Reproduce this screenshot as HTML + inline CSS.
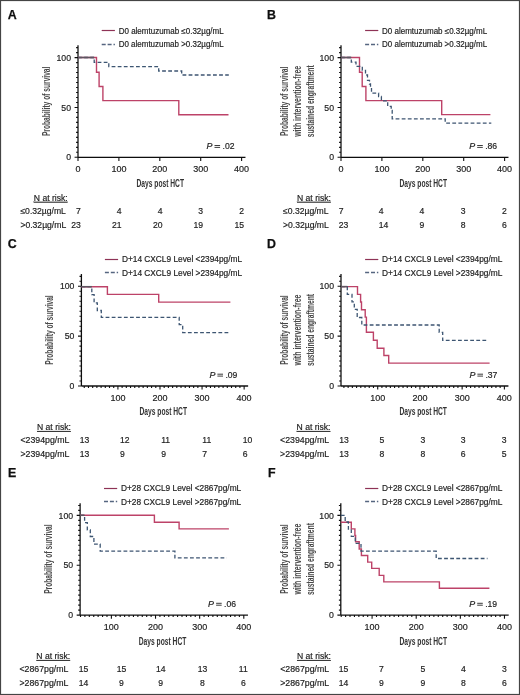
<!DOCTYPE html>
<html><head><meta charset="utf-8"><style>
html,body{margin:0;padding:0;background:#fff;}
svg{display:block;font-family:"Liberation Sans", sans-serif;}
text:not([font-weight]){stroke:#222;stroke-width:0.18px;}
</style></head><body>
<svg width="520" height="695" viewBox="0 0 520 695">
<defs><filter id="soft" x="0" y="0" width="520" height="695" filterUnits="userSpaceOnUse"><feGaussianBlur stdDeviation="0.3"/></filter></defs>
<rect x="0" y="0" width="520" height="695" fill="#fff"/>
<g filter="url(#soft)">
<text x="7.8" y="18.8" font-size="12.4" font-weight="bold" fill="#111" stroke="#111" stroke-width="0.25">A</text>
<path d="M78,45.34V157.3" stroke="#111" stroke-width="1.3" fill="none"/>
<path d="M74.6,157.3H78M76.1,152.31H78M76.1,147.33H78M76.1,142.34H78M76.1,137.36H78M76.1,132.38H78M76.1,127.39H78M76.1,122.41H78M76.1,117.42H78M76.1,112.44H78M74.6,107.45H78M76.1,102.47H78M76.1,97.48H78M76.1,92.5H78M76.1,87.51H78M76.1,82.53H78M76.1,77.54H78M76.1,72.56H78M76.1,67.57H78M76.1,62.59H78M74.6,57.6H78M76.1,52.62H78M76.1,47.63H78" stroke="#111" stroke-width="1.1" fill="none"/>
<path d="M78,157.3H245.49" stroke="#111" stroke-width="1.3" fill="none"/>
<path d="M78,157.3V160.9M118.9,157.3V160.9M159.8,157.3V160.9M200.7,157.3V160.9M241.6,157.3V160.9" stroke="#111" stroke-width="1.1" fill="none"/>
<text x="71" y="160.4" font-size="8.7" text-anchor="end" fill="#222">0</text>
<text x="71" y="110.55" font-size="8.7" text-anchor="end" fill="#222">50</text>
<text x="71" y="60.7" font-size="8.7" text-anchor="end" fill="#222">100</text>
<text x="78" y="172.2" font-size="9.0" text-anchor="middle" fill="#222">0</text>
<text x="118.9" y="172.2" font-size="9.0" text-anchor="middle" fill="#222">100</text>
<text x="159.8" y="172.2" font-size="9.0" text-anchor="middle" fill="#222">200</text>
<text x="200.7" y="172.2" font-size="9.0" text-anchor="middle" fill="#222">300</text>
<text x="241.6" y="172.2" font-size="9.0" text-anchor="middle" fill="#222">400</text>
<text transform="translate(160.24,186.7)" font-size="11" font-weight="bold" text-anchor="middle" fill="#333" textLength="47.5" lengthAdjust="spacingAndGlyphs">Days post HCT</text>
<text transform="translate(49.5,101.32) rotate(-90)" font-size="10" font-weight="bold" text-anchor="middle" fill="#4a4a4a" textLength="69.5" lengthAdjust="spacingAndGlyphs">Probability of survival</text>
<path d="M101.7,30.5h13.2" stroke="#8e3356" stroke-width="1.2" fill="none"/>
<path d="M101.7,44.5h13.2" stroke="#556680" stroke-width="1.3" stroke-dasharray="4,1.9" fill="none"/>
<text x="118.7" y="33.7" font-size="8.2" fill="#222" textLength="105" lengthAdjust="spacingAndGlyphs">D0 alemtuzumab ≤0.32µg/mL</text>
<text x="118.7" y="46.7" font-size="8.2" fill="#222" textLength="105" lengthAdjust="spacingAndGlyphs">D0 alemtuzumab &gt;0.32µg/mL</text>
<path d="M78,57.5H96.5V72.3H99.1V86.5H102.9V100.6H178.8V114.8H228.5" stroke="#bd4368" stroke-width="1.4" fill="none"/>
<path d="M78,57.5H94.2V62.3H108.8V66.6H158.7V71.0H181.7V75.0H228.8" stroke="#3d5572" stroke-width="1.3" stroke-dasharray="3.8,2.3" fill="none"/>
<path d="M78,57.5H94.2" stroke="#5e5560" stroke-width="1.5" fill="none"/>
<text x="206.5" y="148.9" font-size="8.9" font-style="italic" fill="#222">P</text>
<path d="M214.5,145.5h5.6M214.5,147.4h5.6" stroke="#333" stroke-width="0.95" fill="none"/>
<text x="222.5" y="148.9" font-size="8.6" fill="#222">.02</text>
<text x="33.8" y="200.8" font-size="8.6" fill="#222" text-decoration="underline">N at risk:</text>
<text x="20.4" y="214.2" font-size="8.6" fill="#222">≤0.32µg/mL</text>
<text x="80.8" y="214.2" font-size="8.6" text-anchor="end" fill="#222">7</text>
<text x="121.5" y="214.2" font-size="8.6" text-anchor="end" fill="#222">4</text>
<text x="162.5" y="214.2" font-size="8.6" text-anchor="end" fill="#222">4</text>
<text x="203" y="214.2" font-size="8.6" text-anchor="end" fill="#222">3</text>
<text x="244" y="214.2" font-size="8.6" text-anchor="end" fill="#222">2</text>
<text x="20.4" y="227.7" font-size="8.6" fill="#222">&gt;0.32µg/mL</text>
<text x="80.8" y="227.7" font-size="8.6" text-anchor="end" fill="#222">23</text>
<text x="121.5" y="227.7" font-size="8.6" text-anchor="end" fill="#222">21</text>
<text x="162.5" y="227.7" font-size="8.6" text-anchor="end" fill="#222">20</text>
<text x="203" y="227.7" font-size="8.6" text-anchor="end" fill="#222">19</text>
<text x="244" y="227.7" font-size="8.6" text-anchor="end" fill="#222">15</text>
<text x="267.1" y="18.8" font-size="12.4" font-weight="bold" fill="#111" stroke="#111" stroke-width="0.25">B</text>
<path d="M341,45.34V157.3" stroke="#111" stroke-width="1.3" fill="none"/>
<path d="M337.6,157.3H341M339.1,152.31H341M339.1,147.33H341M339.1,142.34H341M339.1,137.36H341M339.1,132.38H341M339.1,127.39H341M339.1,122.41H341M339.1,117.42H341M339.1,112.44H341M337.6,107.45H341M339.1,102.47H341M339.1,97.48H341M339.1,92.5H341M339.1,87.51H341M339.1,82.53H341M339.1,77.54H341M339.1,72.56H341M339.1,67.57H341M339.1,62.59H341M337.6,57.6H341M339.1,52.62H341M339.1,47.63H341" stroke="#111" stroke-width="1.1" fill="none"/>
<path d="M341,157.3H508.49" stroke="#111" stroke-width="1.3" fill="none"/>
<path d="M341,157.3V160.9M381.9,157.3V160.9M422.8,157.3V160.9M463.7,157.3V160.9M504.6,157.3V160.9" stroke="#111" stroke-width="1.1" fill="none"/>
<text x="334" y="160.4" font-size="8.7" text-anchor="end" fill="#222">0</text>
<text x="334" y="110.55" font-size="8.7" text-anchor="end" fill="#222">50</text>
<text x="334" y="60.7" font-size="8.7" text-anchor="end" fill="#222">100</text>
<text x="341" y="172.2" font-size="9.0" text-anchor="middle" fill="#222">0</text>
<text x="381.9" y="172.2" font-size="9.0" text-anchor="middle" fill="#222">100</text>
<text x="422.8" y="172.2" font-size="9.0" text-anchor="middle" fill="#222">200</text>
<text x="463.7" y="172.2" font-size="9.0" text-anchor="middle" fill="#222">300</text>
<text x="504.6" y="172.2" font-size="9.0" text-anchor="middle" fill="#222">400</text>
<text transform="translate(423.24,186.7)" font-size="11" font-weight="bold" text-anchor="middle" fill="#333" textLength="47.5" lengthAdjust="spacingAndGlyphs">Days post HCT</text>
<text transform="translate(288,101.32) rotate(-90)" font-size="10" font-weight="bold" text-anchor="middle" fill="#4a4a4a" textLength="69.5" lengthAdjust="spacingAndGlyphs">Probability of survival</text>
<text transform="translate(301,101.32) rotate(-90)" font-size="10" font-weight="bold" text-anchor="middle" fill="#4a4a4a" textLength="71" lengthAdjust="spacingAndGlyphs">with intervention-free</text>
<text transform="translate(314,101.32) rotate(-90)" font-size="10" font-weight="bold" text-anchor="middle" fill="#4a4a4a" textLength="72" lengthAdjust="spacingAndGlyphs">sustained engraftment</text>
<path d="M365.1,30.5h13.2" stroke="#8e3356" stroke-width="1.2" fill="none"/>
<path d="M365.1,44.5h13.2" stroke="#556680" stroke-width="1.3" stroke-dasharray="4,1.9" fill="none"/>
<text x="382.1" y="33.7" font-size="8.2" fill="#222" textLength="105" lengthAdjust="spacingAndGlyphs">D0 alemtuzumab ≤0.32µg/mL</text>
<text x="382.1" y="46.7" font-size="8.2" fill="#222" textLength="105" lengthAdjust="spacingAndGlyphs">D0 alemtuzumab &gt;0.32µg/mL</text>
<path d="M341,57.5H359.5V72.3H362.2V86.5H365.9V100.6H441.7V114.6H490.4" stroke="#bd4368" stroke-width="1.4" fill="none"/>
<path d="M341,57.5H351.3V62.1H356V66.4H362.3V70.3H365.5V75H367.5V80.3H369.5V84H370.5V87.4H371.5V93.2H378.6V96.5H381.4V100.9H387.7V106.4H391.2V110.5H392.2V118.8H445.2V123.1H491.3" stroke="#3d5572" stroke-width="1.3" stroke-dasharray="3.8,2.3" fill="none"/>
<path d="M341,57.5H351.3" stroke="#5e5560" stroke-width="1.5" fill="none"/>
<text x="469.2" y="148.9" font-size="8.9" font-style="italic" fill="#222">P</text>
<path d="M477.2,145.5h5.6M477.2,147.4h5.6" stroke="#333" stroke-width="0.95" fill="none"/>
<text x="485.2" y="148.9" font-size="8.6" fill="#222">.86</text>
<text x="297" y="200.8" font-size="8.6" fill="#222" text-decoration="underline">N at risk:</text>
<text x="283" y="214.2" font-size="8.6" fill="#222">≤0.32µg/mL</text>
<text x="338.75" y="214.2" font-size="8.6" text-anchor="start" fill="#222">7</text>
<text x="378.75" y="214.2" font-size="8.6" text-anchor="start" fill="#222">4</text>
<text x="419.5" y="214.2" font-size="8.6" text-anchor="start" fill="#222">4</text>
<text x="460.8" y="214.2" font-size="8.6" text-anchor="start" fill="#222">3</text>
<text x="502" y="214.2" font-size="8.6" text-anchor="start" fill="#222">2</text>
<text x="283" y="227.7" font-size="8.6" fill="#222">&gt;0.32µg/mL</text>
<text x="338.75" y="227.7" font-size="8.6" text-anchor="start" fill="#222">23</text>
<text x="378.75" y="227.7" font-size="8.6" text-anchor="start" fill="#222">14</text>
<text x="419.5" y="227.7" font-size="8.6" text-anchor="start" fill="#222">9</text>
<text x="460.8" y="227.7" font-size="8.6" text-anchor="start" fill="#222">8</text>
<text x="502" y="227.7" font-size="8.6" text-anchor="start" fill="#222">6</text>
<text x="7.8" y="247.8" font-size="12.4" font-weight="bold" fill="#111" stroke="#111" stroke-width="0.25">C</text>
<path d="M81.4,274.04V386" stroke="#111" stroke-width="1.3" fill="none"/>
<path d="M78,386H81.4M79.5,381.01H81.4M79.5,376.03H81.4M79.5,371.05H81.4M79.5,366.06H81.4M79.5,361.07H81.4M79.5,356.09H81.4M79.5,351.11H81.4M79.5,346.12H81.4M79.5,341.13H81.4M78,336.15H81.4M79.5,331.17H81.4M79.5,326.18H81.4M79.5,321.19H81.4M79.5,316.21H81.4M79.5,311.23H81.4M79.5,306.24H81.4M79.5,301.25H81.4M79.5,296.27H81.4M79.5,291.28H81.4M78,286.3H81.4M79.5,281.31H81.4M79.5,276.33H81.4" stroke="#111" stroke-width="1.1" fill="none"/>
<path d="M81.4,386H248.12" stroke="#111" stroke-width="1.3" fill="none"/>
<path d="M84.26,386V388M88.47,386V388M92.67,386V388M96.88,386V388M101.09,386V388M105.3,386V388M109.5,386V388M113.71,386V388M117.92,386V389.6M122.12,386V388M126.33,386V388M130.54,386V388M134.74,386V388M138.95,386V388M143.16,386V388M147.37,386V388M151.57,386V388M155.78,386V388M159.99,386V389.6M164.19,386V388M168.4,386V388M172.61,386V388M176.81,386V388M181.02,386V388M185.23,386V388M189.44,386V388M193.64,386V388M197.85,386V388M202.06,386V389.6M206.26,386V388M210.47,386V388M214.68,386V388M218.88,386V388M223.09,386V388M227.3,386V388M231.51,386V388M235.71,386V388M239.92,386V388M244.13,386V389.6" stroke="#111" stroke-width="1.1" fill="none"/>
<text x="74.4" y="389.1" font-size="8.7" text-anchor="end" fill="#222">0</text>
<text x="74.4" y="339.25" font-size="8.7" text-anchor="end" fill="#222">50</text>
<text x="74.4" y="289.4" font-size="8.7" text-anchor="end" fill="#222">100</text>
<text x="117.92" y="400.9" font-size="9.0" text-anchor="middle" fill="#222">100</text>
<text x="159.99" y="400.9" font-size="9.0" text-anchor="middle" fill="#222">200</text>
<text x="202.06" y="400.9" font-size="9.0" text-anchor="middle" fill="#222">300</text>
<text x="244.13" y="400.9" font-size="9.0" text-anchor="middle" fill="#222">400</text>
<text transform="translate(163.26,415.4)" font-size="11" font-weight="bold" text-anchor="middle" fill="#333" textLength="47.5" lengthAdjust="spacingAndGlyphs">Days post HCT</text>
<text transform="translate(52.9,330.02) rotate(-90)" font-size="10" font-weight="bold" text-anchor="middle" fill="#4a4a4a" textLength="69.5" lengthAdjust="spacingAndGlyphs">Probability of survival</text>
<path d="M104.9,259.5h13.2" stroke="#8e3356" stroke-width="1.2" fill="none"/>
<path d="M104.9,272.5h13.2" stroke="#556680" stroke-width="1.3" stroke-dasharray="4,1.9" fill="none"/>
<text x="121.9" y="262.2" font-size="8.2" fill="#222" textLength="120.2" lengthAdjust="spacingAndGlyphs">D+14 CXCL9 Level &lt;2394pg/mL</text>
<text x="121.9" y="275.7" font-size="8.2" fill="#222" textLength="120.2" lengthAdjust="spacingAndGlyphs">D+14 CXCL9 Level &gt;2394pg/mL</text>
<path d="M81.4,286.7H107.4V294.4H158.7V302.1H230.4" stroke="#bd4368" stroke-width="1.4" fill="none"/>
<path d="M81.4,286.7H91.8V294.7H94.1V302.8H97.3V310.5H101.3V317.4H179.2V324.6H182.7V332.7H230.4" stroke="#3d5572" stroke-width="1.3" stroke-dasharray="3.8,2.3" fill="none"/>
<path d="M81.4,286.7H91.8" stroke="#5e5560" stroke-width="1.5" fill="none"/>
<text x="209.4" y="377.6" font-size="8.9" font-style="italic" fill="#222">P</text>
<path d="M217.4,374.2h5.6M217.4,376.1h5.6" stroke="#333" stroke-width="0.95" fill="none"/>
<text x="225.4" y="377.6" font-size="8.6" fill="#222">.09</text>
<text x="37" y="430" font-size="8.6" fill="#222" text-decoration="underline">N at risk:</text>
<text x="20.5" y="443.4" font-size="8.6" fill="#222" textLength="49" lengthAdjust="spacingAndGlyphs">&lt;2394pg/mL</text>
<text x="79.7" y="443.4" font-size="8.6" text-anchor="start" fill="#222">13</text>
<text x="120" y="443.4" font-size="8.6" text-anchor="start" fill="#222">12</text>
<text x="161.2" y="443.4" font-size="8.6" text-anchor="start" fill="#222">11</text>
<text x="202.3" y="443.4" font-size="8.6" text-anchor="start" fill="#222">11</text>
<text x="242.7" y="443.4" font-size="8.6" text-anchor="start" fill="#222">10</text>
<text x="20.5" y="456.9" font-size="8.6" fill="#222" textLength="49" lengthAdjust="spacingAndGlyphs">&gt;2394pg/mL</text>
<text x="79.7" y="456.9" font-size="8.6" text-anchor="start" fill="#222">13</text>
<text x="120" y="456.9" font-size="8.6" text-anchor="start" fill="#222">9</text>
<text x="161.2" y="456.9" font-size="8.6" text-anchor="start" fill="#222">9</text>
<text x="202.3" y="456.9" font-size="8.6" text-anchor="start" fill="#222">7</text>
<text x="242.7" y="456.9" font-size="8.6" text-anchor="start" fill="#222">6</text>
<text x="266.9" y="247.8" font-size="12.4" font-weight="bold" fill="#111" stroke="#111" stroke-width="0.25">D</text>
<path d="M341,274.04V386" stroke="#111" stroke-width="1.3" fill="none"/>
<path d="M337.6,386H341M339.1,381.01H341M339.1,376.03H341M339.1,371.05H341M339.1,366.06H341M339.1,361.07H341M339.1,356.09H341M339.1,351.11H341M339.1,346.12H341M339.1,341.13H341M337.6,336.15H341M339.1,331.17H341M339.1,326.18H341M339.1,321.19H341M339.1,316.21H341M339.1,311.23H341M339.1,306.24H341M339.1,301.25H341M339.1,296.27H341M339.1,291.28H341M337.6,286.3H341M339.1,281.31H341M339.1,276.33H341" stroke="#111" stroke-width="1.1" fill="none"/>
<path d="M341,386H508.4" stroke="#111" stroke-width="1.3" fill="none"/>
<path d="M343.91,386V388M348.14,386V388M352.36,386V388M356.58,386V388M360.81,386V388M365.03,386V388M369.25,386V388M373.47,386V388M377.7,386V389.6M381.92,386V388M386.14,386V388M390.37,386V388M394.59,386V388M398.81,386V388M403.04,386V388M407.26,386V388M411.48,386V388M415.7,386V388M419.93,386V389.6M424.15,386V388M428.37,386V388M432.6,386V388M436.82,386V388M441.04,386V388M445.27,386V388M449.49,386V388M453.71,386V388M457.93,386V388M462.16,386V389.6M466.38,386V388M470.6,386V388M474.83,386V388M479.05,386V388M483.27,386V388M487.5,386V388M491.72,386V388M495.94,386V388M500.16,386V388M504.39,386V389.6" stroke="#111" stroke-width="1.1" fill="none"/>
<text x="334" y="389.1" font-size="8.7" text-anchor="end" fill="#222">0</text>
<text x="334" y="339.25" font-size="8.7" text-anchor="end" fill="#222">50</text>
<text x="334" y="289.4" font-size="8.7" text-anchor="end" fill="#222">100</text>
<text x="377.7" y="400.9" font-size="9.0" text-anchor="middle" fill="#222">100</text>
<text x="419.93" y="400.9" font-size="9.0" text-anchor="middle" fill="#222">200</text>
<text x="462.16" y="400.9" font-size="9.0" text-anchor="middle" fill="#222">300</text>
<text x="504.39" y="400.9" font-size="9.0" text-anchor="middle" fill="#222">400</text>
<text transform="translate(423.2,415.4)" font-size="11" font-weight="bold" text-anchor="middle" fill="#333" textLength="47.5" lengthAdjust="spacingAndGlyphs">Days post HCT</text>
<text transform="translate(288,330.02) rotate(-90)" font-size="10" font-weight="bold" text-anchor="middle" fill="#4a4a4a" textLength="69.5" lengthAdjust="spacingAndGlyphs">Probability of survival</text>
<text transform="translate(301,330.02) rotate(-90)" font-size="10" font-weight="bold" text-anchor="middle" fill="#4a4a4a" textLength="71" lengthAdjust="spacingAndGlyphs">with intervention-free</text>
<text transform="translate(314,330.02) rotate(-90)" font-size="10" font-weight="bold" text-anchor="middle" fill="#4a4a4a" textLength="72" lengthAdjust="spacingAndGlyphs">sustained engraftment</text>
<path d="M365.1,259.5h13.2" stroke="#8e3356" stroke-width="1.2" fill="none"/>
<path d="M365.1,272.5h13.2" stroke="#556680" stroke-width="1.3" stroke-dasharray="4,1.9" fill="none"/>
<text x="382.1" y="262.2" font-size="8.2" fill="#222" textLength="120.2" lengthAdjust="spacingAndGlyphs">D+14 CXCL9 Level &lt;2394pg/mL</text>
<text x="382.1" y="275.7" font-size="8.2" fill="#222" textLength="120.2" lengthAdjust="spacingAndGlyphs">D+14 CXCL9 Level &gt;2394pg/mL</text>
<path d="M341,286.6H357.5V294.4H360.6V302H361.5V309.7H365.2V317.1H366.4V332.3H373.4V340.2H377.2V348.3H383.9V355.5H388.7V363.1H489.6" stroke="#bd4368" stroke-width="1.4" fill="none"/>
<path d="M341,286.6H347.3V294.4H352V301.9H354.3V309.4H357.2V317.5H361.8V325H439.2V332.3H442.7V340.4H488.3" stroke="#3d5572" stroke-width="1.3" stroke-dasharray="3.8,2.3" fill="none"/>
<path d="M341,286.6H347.3" stroke="#5e5560" stroke-width="1.5" fill="none"/>
<text x="469.4" y="377.6" font-size="8.9" font-style="italic" fill="#222">P</text>
<path d="M477.4,374.2h5.6M477.4,376.1h5.6" stroke="#333" stroke-width="0.95" fill="none"/>
<text x="485.4" y="377.6" font-size="8.6" fill="#222">.37</text>
<text x="296.6" y="430" font-size="8.6" fill="#222" text-decoration="underline">N at risk:</text>
<text x="280.1" y="443.4" font-size="8.6" fill="#222" textLength="49" lengthAdjust="spacingAndGlyphs">&lt;2394pg/mL</text>
<text x="339.2" y="443.4" font-size="8.6" text-anchor="start" fill="#222">13</text>
<text x="379.6" y="443.4" font-size="8.6" text-anchor="start" fill="#222">5</text>
<text x="420.4" y="443.4" font-size="8.6" text-anchor="start" fill="#222">3</text>
<text x="460.8" y="443.4" font-size="8.6" text-anchor="start" fill="#222">3</text>
<text x="501.7" y="443.4" font-size="8.6" text-anchor="start" fill="#222">3</text>
<text x="280.1" y="456.9" font-size="8.6" fill="#222" textLength="49" lengthAdjust="spacingAndGlyphs">&gt;2394pg/mL</text>
<text x="339.2" y="456.9" font-size="8.6" text-anchor="start" fill="#222">13</text>
<text x="379.6" y="456.9" font-size="8.6" text-anchor="start" fill="#222">8</text>
<text x="420.4" y="456.9" font-size="8.6" text-anchor="start" fill="#222">8</text>
<text x="460.8" y="456.9" font-size="8.6" text-anchor="start" fill="#222">6</text>
<text x="501.7" y="456.9" font-size="8.6" text-anchor="start" fill="#222">5</text>
<text x="8" y="476.9" font-size="12.4" font-weight="bold" fill="#111" stroke="#111" stroke-width="0.25">E</text>
<path d="M80.1,503.14V615.1" stroke="#111" stroke-width="1.3" fill="none"/>
<path d="M76.7,615.1H80.1M78.2,610.12H80.1M78.2,605.13H80.1M78.2,600.14H80.1M78.2,595.16H80.1M78.2,590.18H80.1M78.2,585.19H80.1M78.2,580.21H80.1M78.2,575.22H80.1M78.2,570.24H80.1M76.7,565.25H80.1M78.2,560.26H80.1M78.2,555.28H80.1M78.2,550.3H80.1M78.2,545.31H80.1M78.2,540.33H80.1M78.2,535.34H80.1M78.2,530.36H80.1M78.2,525.37H80.1M78.2,520.38H80.1M76.7,515.4H80.1M78.2,510.42H80.1M78.2,505.43H80.1" stroke="#111" stroke-width="1.1" fill="none"/>
<path d="M80.1,615.1H247.97" stroke="#111" stroke-width="1.3" fill="none"/>
<path d="M80.5,615.1V617.1M84.91,615.1V617.1M89.32,615.1V617.1M93.74,615.1V617.1M98.15,615.1V617.1M102.56,615.1V617.1M106.98,615.1V617.1M111.39,615.1V618.7M115.8,615.1V617.1M120.21,615.1V617.1M124.63,615.1V617.1M129.04,615.1V617.1M133.45,615.1V617.1M137.87,615.1V617.1M142.28,615.1V617.1M146.69,615.1V617.1M151.11,615.1V617.1M155.52,615.1V618.7M159.93,615.1V617.1M164.34,615.1V617.1M168.76,615.1V617.1M173.17,615.1V617.1M177.58,615.1V617.1M182,615.1V617.1M186.41,615.1V617.1M190.82,615.1V617.1M195.24,615.1V617.1M199.65,615.1V618.7M204.06,615.1V617.1M208.47,615.1V617.1M212.89,615.1V617.1M217.3,615.1V617.1M221.71,615.1V617.1M226.13,615.1V617.1M230.54,615.1V617.1M234.95,615.1V617.1M239.37,615.1V617.1M243.78,615.1V618.7" stroke="#111" stroke-width="1.1" fill="none"/>
<text x="73.1" y="618.2" font-size="8.7" text-anchor="end" fill="#222">0</text>
<text x="73.1" y="568.35" font-size="8.7" text-anchor="end" fill="#222">50</text>
<text x="73.1" y="518.5" font-size="8.7" text-anchor="end" fill="#222">100</text>
<text x="111.39" y="630" font-size="9.0" text-anchor="middle" fill="#222">100</text>
<text x="155.52" y="630" font-size="9.0" text-anchor="middle" fill="#222">200</text>
<text x="199.65" y="630" font-size="9.0" text-anchor="middle" fill="#222">300</text>
<text x="243.78" y="630" font-size="9.0" text-anchor="middle" fill="#222">400</text>
<text transform="translate(162.54,644.5)" font-size="11" font-weight="bold" text-anchor="middle" fill="#333" textLength="47.5" lengthAdjust="spacingAndGlyphs">Days post HCT</text>
<text transform="translate(51.6,559.12) rotate(-90)" font-size="10" font-weight="bold" text-anchor="middle" fill="#4a4a4a" textLength="69.5" lengthAdjust="spacingAndGlyphs">Probability of survival</text>
<path d="M104,488.5h13.2" stroke="#8e3356" stroke-width="1.2" fill="none"/>
<path d="M104,501.5h13.2" stroke="#556680" stroke-width="1.3" stroke-dasharray="4,1.9" fill="none"/>
<text x="121" y="491.2" font-size="8.2" fill="#222" textLength="120.2" lengthAdjust="spacingAndGlyphs">D+28 CXCL9 Level &lt;2867pg/mL</text>
<text x="121" y="504.7" font-size="8.2" fill="#222" textLength="120.2" lengthAdjust="spacingAndGlyphs">D+28 CXCL9 Level &gt;2867pg/mL</text>
<path d="M80.1,515.3H154.4V522.3H179.1V528.9H228.9" stroke="#bd4368" stroke-width="1.4" fill="none"/>
<path d="M80.1,515.3H84.6V522.6H87.3V529.9H90.3V536.5H93.9V544.1H100.2V551.2H174.9V557.9H226.7" stroke="#3d5572" stroke-width="1.3" stroke-dasharray="3.8,2.3" fill="none"/>
<path d="M80.1,515.3H84.6" stroke="#5e5560" stroke-width="1.5" fill="none"/>
<text x="208.1" y="606.7" font-size="8.9" font-style="italic" fill="#222">P</text>
<path d="M216.1,603.3h5.6M216.1,605.2h5.6" stroke="#333" stroke-width="0.95" fill="none"/>
<text x="224.1" y="606.7" font-size="8.6" fill="#222">.06</text>
<text x="36.3" y="659" font-size="8.6" fill="#222" text-decoration="underline">N at risk:</text>
<text x="19.5" y="672" font-size="8.6" fill="#222" textLength="49" lengthAdjust="spacingAndGlyphs">&lt;2867pg/mL</text>
<text x="83.5" y="672" font-size="8.6" text-anchor="middle" fill="#222">15</text>
<text x="121.5" y="672" font-size="8.6" text-anchor="middle" fill="#222">15</text>
<text x="160.7" y="672" font-size="8.6" text-anchor="middle" fill="#222">14</text>
<text x="202.5" y="672" font-size="8.6" text-anchor="middle" fill="#222">13</text>
<text x="243.3" y="672" font-size="8.6" text-anchor="middle" fill="#222">11</text>
<text x="19.5" y="685.5" font-size="8.6" fill="#222" textLength="49" lengthAdjust="spacingAndGlyphs">&gt;2867pg/mL</text>
<text x="83.5" y="685.5" font-size="8.6" text-anchor="middle" fill="#222">14</text>
<text x="121.5" y="685.5" font-size="8.6" text-anchor="middle" fill="#222">9</text>
<text x="160.7" y="685.5" font-size="8.6" text-anchor="middle" fill="#222">9</text>
<text x="202.5" y="685.5" font-size="8.6" text-anchor="middle" fill="#222">8</text>
<text x="243.3" y="685.5" font-size="8.6" text-anchor="middle" fill="#222">6</text>
<text x="268.1" y="476.9" font-size="12.4" font-weight="bold" fill="#111" stroke="#111" stroke-width="0.25">F</text>
<path d="M340.8,503.14V615.1" stroke="#111" stroke-width="1.3" fill="none"/>
<path d="M337.4,615.1H340.8M338.9,610.12H340.8M338.9,605.13H340.8M338.9,600.14H340.8M338.9,595.16H340.8M338.9,590.18H340.8M338.9,585.19H340.8M338.9,580.21H340.8M338.9,575.22H340.8M338.9,570.24H340.8M337.4,565.25H340.8M338.9,560.26H340.8M338.9,555.28H340.8M338.9,550.3H340.8M338.9,545.31H340.8M338.9,540.33H340.8M338.9,535.34H340.8M338.9,530.36H340.8M338.9,525.37H340.8M338.9,520.38H340.8M337.4,515.4H340.8M338.9,510.42H340.8M338.9,505.43H340.8" stroke="#111" stroke-width="1.1" fill="none"/>
<path d="M340.8,615.1H508.67" stroke="#111" stroke-width="1.3" fill="none"/>
<path d="M341.2,615.1V617.1M345.61,615.1V617.1M350.02,615.1V617.1M354.44,615.1V617.1M358.85,615.1V617.1M363.26,615.1V617.1M367.68,615.1V617.1M372.09,615.1V618.7M376.5,615.1V617.1M380.91,615.1V617.1M385.33,615.1V617.1M389.74,615.1V617.1M394.15,615.1V617.1M398.57,615.1V617.1M402.98,615.1V617.1M407.39,615.1V617.1M411.81,615.1V617.1M416.22,615.1V618.7M420.63,615.1V617.1M425.04,615.1V617.1M429.46,615.1V617.1M433.87,615.1V617.1M438.28,615.1V617.1M442.7,615.1V617.1M447.11,615.1V617.1M451.52,615.1V617.1M455.94,615.1V617.1M460.35,615.1V618.7M464.76,615.1V617.1M469.17,615.1V617.1M473.59,615.1V617.1M478,615.1V617.1M482.41,615.1V617.1M486.83,615.1V617.1M491.24,615.1V617.1M495.65,615.1V617.1M500.07,615.1V617.1M504.48,615.1V618.7" stroke="#111" stroke-width="1.1" fill="none"/>
<text x="333.8" y="618.2" font-size="8.7" text-anchor="end" fill="#222">0</text>
<text x="333.8" y="568.35" font-size="8.7" text-anchor="end" fill="#222">50</text>
<text x="333.8" y="518.5" font-size="8.7" text-anchor="end" fill="#222">100</text>
<text x="372.09" y="630" font-size="9.0" text-anchor="middle" fill="#222">100</text>
<text x="416.22" y="630" font-size="9.0" text-anchor="middle" fill="#222">200</text>
<text x="460.35" y="630" font-size="9.0" text-anchor="middle" fill="#222">300</text>
<text x="504.48" y="630" font-size="9.0" text-anchor="middle" fill="#222">400</text>
<text transform="translate(423.24,644.5)" font-size="11" font-weight="bold" text-anchor="middle" fill="#333" textLength="47.5" lengthAdjust="spacingAndGlyphs">Days post HCT</text>
<text transform="translate(288,559.12) rotate(-90)" font-size="10" font-weight="bold" text-anchor="middle" fill="#4a4a4a" textLength="69.5" lengthAdjust="spacingAndGlyphs">Probability of survival</text>
<text transform="translate(301,559.12) rotate(-90)" font-size="10" font-weight="bold" text-anchor="middle" fill="#4a4a4a" textLength="71" lengthAdjust="spacingAndGlyphs">with intervention-free</text>
<text transform="translate(314,559.12) rotate(-90)" font-size="10" font-weight="bold" text-anchor="middle" fill="#4a4a4a" textLength="72" lengthAdjust="spacingAndGlyphs">sustained engraftment</text>
<path d="M365.1,488.5h13.2" stroke="#8e3356" stroke-width="1.2" fill="none"/>
<path d="M365.1,501.5h13.2" stroke="#556680" stroke-width="1.3" stroke-dasharray="4,1.9" fill="none"/>
<text x="382.1" y="491.2" font-size="8.2" fill="#222" textLength="120.2" lengthAdjust="spacingAndGlyphs">D+28 CXCL9 Level &lt;2867pg/mL</text>
<text x="382.1" y="504.7" font-size="8.2" fill="#222" textLength="120.2" lengthAdjust="spacingAndGlyphs">D+28 CXCL9 Level &gt;2867pg/mL</text>
<path d="M340.8,522.2H351.3V528.9H354.9V535.5H355.6V541.8H359.2V549H361.4V555.5H367.7V562.1H371.7V568.4H379.2V575.4H383.8V581.9H439.4V588.3H489.4" stroke="#bd4368" stroke-width="1.4" fill="none"/>
<path d="M340.8,515.4H345.2V522H348.4V529.2H351.3V536.4H355.3V543.3H361V551.2H436.2V558.5H487.5" stroke="#3d5572" stroke-width="1.3" stroke-dasharray="3.8,2.3" fill="none"/>
<text x="469.2" y="606.7" font-size="8.9" font-style="italic" fill="#222">P</text>
<path d="M477.2,603.3h5.6M477.2,605.2h5.6" stroke="#333" stroke-width="0.95" fill="none"/>
<text x="485.2" y="606.7" font-size="8.6" fill="#222">.19</text>
<text x="297" y="659" font-size="8.6" fill="#222" text-decoration="underline">N at risk:</text>
<text x="280.2" y="672" font-size="8.6" fill="#222" textLength="49" lengthAdjust="spacingAndGlyphs">&lt;2867pg/mL</text>
<text x="343.5" y="672" font-size="8.6" text-anchor="middle" fill="#222">15</text>
<text x="381.5" y="672" font-size="8.6" text-anchor="middle" fill="#222">7</text>
<text x="422.8" y="672" font-size="8.6" text-anchor="middle" fill="#222">5</text>
<text x="463.4" y="672" font-size="8.6" text-anchor="middle" fill="#222">4</text>
<text x="504.4" y="672" font-size="8.6" text-anchor="middle" fill="#222">3</text>
<text x="280.2" y="685.5" font-size="8.6" fill="#222" textLength="49" lengthAdjust="spacingAndGlyphs">&gt;2867pg/mL</text>
<text x="343.5" y="685.5" font-size="8.6" text-anchor="middle" fill="#222">14</text>
<text x="381.5" y="685.5" font-size="8.6" text-anchor="middle" fill="#222">9</text>
<text x="422.8" y="685.5" font-size="8.6" text-anchor="middle" fill="#222">9</text>
<text x="463.4" y="685.5" font-size="8.6" text-anchor="middle" fill="#222">8</text>
<text x="504.4" y="685.5" font-size="8.6" text-anchor="middle" fill="#222">6</text>
</g>
<rect x="0.5" y="0.5" width="519" height="694" fill="none" stroke="#444" stroke-width="1.2"/>
</svg></body></html>
